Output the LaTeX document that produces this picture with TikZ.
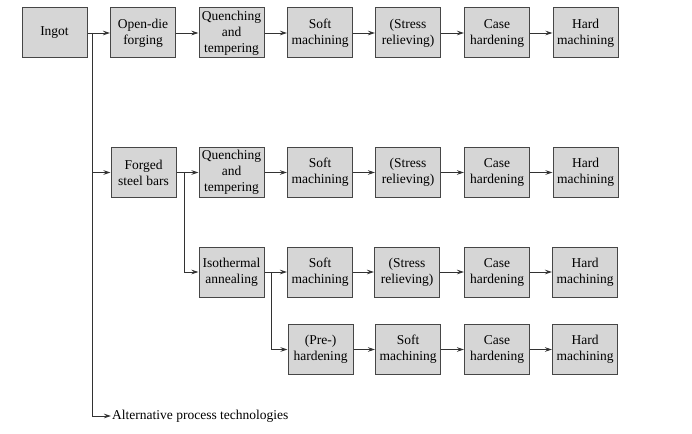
\documentclass[tikz,border=0pt]{standalone}
\usepackage{fontspec}
\setmainfont{Liberation Serif}
\usetikzlibrary{arrows.meta}
\definecolor{boxfill}{RGB}{214,214,214}
\definecolor{boxline}{RGB}{70,70,70}
\definecolor{lineclr}{RGB}{50,50,50}
\tikzset{
  stepbox/.style={draw=boxline, line width=1pt, fill=boxfill, minimum width=65pt, minimum height=50pt,
    inner sep=0pt, align=center, font=\fontsize{13.5pt}{16pt}\selectfont},
  conn/.style={draw=lineclr, line width=0.8pt, -{Stealth[length=7pt,width=4.5pt]}},
  plain/.style={draw=lineclr, line width=0.8pt}
}
\begin{document}
\begin{tikzpicture}[x=1pt,y=-1pt]
\useasboundingbox (0,0) rectangle (692,433);
% row 1
\node[stepbox] (ingot) at (54.5,33) {Ingot};
\node[stepbox] (odf) at (143,33) {Open-die\\forging};
\node[stepbox] (qt1) at (231.5,33) {Quenching\\and\\tempering};
\node[stepbox] (sm1) at (320,33) {Soft\\machining};
\node[stepbox] (sr1) at (408,33) {(Stress\\relieving)};
\node[stepbox] (ch1) at (497,33) {Case\\hardening};
\node[stepbox] (hm1) at (585.5,33) {Hard\\machining};
% row 2
\node[stepbox] (fsb) at (143.5,172.5) {Forged\\steel bars};
\node[stepbox] (qt2) at (231.5,172.5) {Quenching\\and\\tempering};
\node[stepbox] (sm2) at (320,172.5) {Soft\\machining};
\node[stepbox] (sr2) at (408,172.5) {(Stress\\relieving)};
\node[stepbox] (ch2) at (497,172.5) {Case\\hardening};
\node[stepbox] (hm2) at (585.5,172.5) {Hard\\machining};
% row 3
\node[stepbox] (iso) at (231.5,272) {Isothermal\\annealing};
\node[stepbox] (sm3) at (320,272) {Soft\\machining};
\node[stepbox] (sr3) at (407,272) {(Stress\\relieving)};
\node[stepbox] (ch3) at (497,272) {Case\\hardening};
\node[stepbox] (hm3) at (585,272) {Hard\\machining};
% row 4
\node[stepbox] (ph) at (320.5,349.5) {(Pre-)\\hardening};
\node[stepbox] (sm4) at (408,349.5) {Soft\\machining};
\node[stepbox] (ch4) at (497,349.5) {Case\\hardening};
\node[stepbox] (hm4) at (585,349.5) {Hard\\machining};
% alternative
\node[anchor=west, inner sep=1pt, font=\fontsize{13.5pt}{16pt}\selectfont] (alt) at (111,416) {Alternative process technologies};
% branch coordinates
\coordinate (b1) at (92,33);
\coordinate (b1b) at (92,172.5);
\coordinate (b1c) at (92,416);
\coordinate (b2) at (184,172.5);
\coordinate (b2b) at (184,272);
\coordinate (b3) at (271,272);
\coordinate (b3b) at (271,349.5);
% row 1 connectors
\draw[conn] (ingot) -- (odf);
\draw[conn] (odf) -- (qt1);
\draw[conn] (qt1) -- (sm1);
\draw[conn] (sm1) -- (sr1);
\draw[conn] (sr1) -- (ch1);
\draw[conn] (ch1) -- (hm1);
% trunk
\draw[plain] (b1) -- (b1c);
\draw[conn] (b1b) -- (fsb);
\draw[conn] (b1c) -- (alt);
% row 2
\draw[conn] (fsb) -- (qt2);
\draw[conn] (qt2) -- (sm2);
\draw[conn] (sm2) -- (sr2);
\draw[conn] (sr2) -- (ch2);
\draw[conn] (ch2) -- (hm2);
\draw[plain] (b2) -- (b2b);
\draw[conn] (b2b) -- (iso);
% row 3
\draw[conn] (iso) -- (sm3);
\draw[conn] (sm3) -- (sr3);
\draw[conn] (sr3) -- (ch3);
\draw[conn] (ch3) -- (hm3);
\draw[plain] (b3) -- (b3b);
\draw[conn] (b3b) -- (ph);
% row 4
\draw[conn] (ph) -- (sm4);
\draw[conn] (sm4) -- (ch4);
\draw[conn] (ch4) -- (hm4);
\end{tikzpicture}
\end{document}
